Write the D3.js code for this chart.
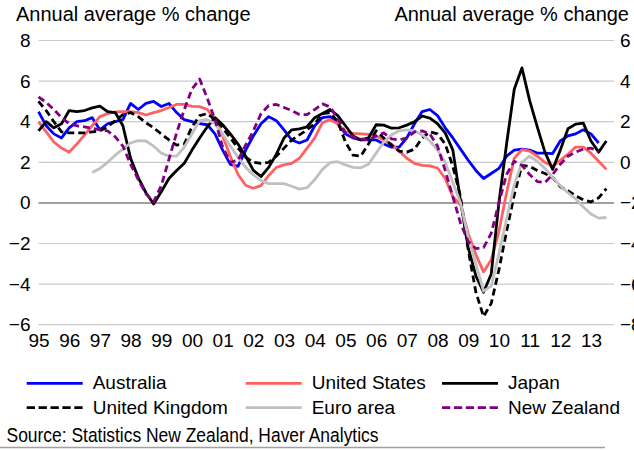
<!DOCTYPE html>
<html>
<head>
<meta charset="utf-8">
<script src="https://cdn.jsdelivr.net/npm/d3@7"></script>
<style>
  html, body { margin: 0; padding: 0; background: #fff; }
  svg { display: block; font-family: "Liberation Sans", Arial, sans-serif; }
</style>
</head>
<body>
<svg id="chart" width="634" height="450"></svg>
<script>
// Quarterly series, annual average % change, first quarter 1995 onward
const firstYear = 1995;

const australia = [
  4.5, 3.8, 3.4, 3.2,   3.7, 4.0, 4.05, 4.2,   3.6, 3.9, 4.0, 4.1,
  4.9, 4.6, 4.9, 5.0,   4.75, 4.9, 4.45, 4.1,  4.0, 3.9, 3.85, 3.4,
  2.6, 1.9, 1.8, 2.6,   3.3, 3.9, 4.25, 4.05,  3.6, 3.1, 2.95, 3.1,
  3.8, 4.2, 4.25, 3.9,  3.4, 3.2, 3.1, 3.1,    3.1, 2.9, 2.75, 2.75,
  3.2, 3.9, 4.5, 4.6,   4.3, 3.7, 3.2, 2.65,   2.1, 1.6, 1.2, 1.45,
  1.7, 2.3, 2.6, 2.65,  2.6, 2.45, 2.45, 2.43, 3.05, 3.3, 3.4, 3.6,
  3.4, 2.95, null
];

const unitedStates = [
  4.0, 3.5, 3.0, 2.7,   2.5, 2.9, 3.35, 3.8,   4.25, 4.4, 4.48, 4.5,
  4.5, 4.45, 4.33, 4.45, 4.55, 4.7, 4.85, 4.85, 4.75, 4.74, 4.6, 4.1,
  3.3, 2.3, 1.4, 0.87,  0.72, 0.85, 1.35, 1.75, 1.87, 1.95, 2.2, 2.7,
  3.2, 3.95, 4.1, 3.9,  3.5, 3.42, 3.4, 3.38,  3.3, 3.1, 2.9, 2.55,
  2.2, 1.95, 1.85, 1.82, 1.72, 1.2, 0.3, -0.1, -1.5, -2.55, -3.4, -2.8,
  -1.4, 0.5, 2.2, 2.62, 2.55, 2.3, 2.0, 1.8,  2.1, 2.4, 2.75, 2.75,
  2.45, 2.05, 1.65
];

const japan = [
  3.55, 4.0, 3.7, 3.9,  4.55, 4.5, 4.55, 4.68, 4.77, 4.5, 4.45, 3.8,
  2.2, 1.25, 0.5, -0.05, 0.55, 1.2, 1.6, 1.95, 2.6, 3.2, 3.75, 4.2,
  3.85, 3.4, 2.9, 2.3,  1.6, 1.3, 1.75, 2.4,   3.2, 3.6, 3.65, 3.75,
  4.2, 4.4, 4.6, 4.3,   3.8, 3.3, 3.1, 3.2,    3.85, 3.83, 3.68, 3.7,
  3.83, 4.0, 4.28, 4.18, 3.9, 3.45, 2.6, 0.1,  -2.2, -3.6, -4.4, -3.5,
  0.0, 2.9, 5.6, 6.65,  5.05, 3.75, 2.5, 1.65, 2.6, 3.65, 3.88, 3.93,
  3.05, 2.5, 3.05
];

const unitedKingdom = [
  5.0, 4.55, 4.0, 3.5,  3.45, 3.45, 3.45, 3.5, 3.55, 3.75, 4.05, 4.35,
  4.45, 4.25, 3.95, 3.7, 3.4, 3.1, 2.85, 2.9,  3.75, 4.3, 4.4, 4.1,
  3.7, 3.2, 2.7, 2.25,  2.0, 1.95, 2.0, 2.3,   2.7, 3.1, 3.35, 3.6,
  3.9, 4.4, 4.45, 4.0,  3.0, 2.35, 2.3, 2.9,   3.55, 3.2, 2.85, 2.55,
  2.5, 2.65, 3.2, 3.5,  3.4, 2.9, 1.8, 0.3,    -2.3, -4.4, -5.6, -4.95,
  -3.3, -1.4, 0.4, 1.85, 1.8, 1.6, 1.45, 1.25, 0.8, 0.6, 0.35, 0.15,
  0.05, 0.25, 0.7
];

const euroArea = [
  null, null, null, null, null, null, null, 1.5, 1.7, 2.0, 2.35, 2.65,
  2.95, 3.07, 3.05, 2.8, 2.45, 2.3, 2.3, 2.75,  3.4, 4.05, 4.1, 3.9,
  3.4, 2.8, 2.25, 1.75, 1.38, 1.1, 0.95, 0.95,  0.95, 0.82, 0.68, 0.75,
  1.15, 1.65, 1.98, 2.03, 1.87, 1.75, 1.73, 1.9, 2.45, 3.0, 3.35, 3.55,
  3.6, 3.55, 3.35, 3.05, 2.6, 2.0, 1.0, 0.0,    -1.7, -3.0, -4.35, -4.1,
  -2.5, -0.8, 0.9, 2.0, 2.3, 2.05, 1.7, 1.25,   0.85, 0.5, 0.2, -0.2,
  -0.55, -0.75, -0.72
];

const newZealand = [
  5.22, 4.95, 4.6, 4.2, 3.9, 3.8, 3.75, 3.68,  3.6, 3.55, 3.25, 2.8,
  1.9, 1.15, 0.45, 0.05, 0.85, 2.15, 3.45, 4.6, 5.6, 6.1, 5.15, 4.1,
  2.75, 2.0, 2.1, 2.85, 3.55, 4.4, 4.8, 4.85,  4.7, 4.55, 4.35, 4.35,
  4.6, 4.88, 4.73, 4.15, 3.45, 3.25, 3.15, 3.1, 3.3, 3.45, 3.15, 3.1,
  3.2, 3.5, 3.55, 3.4,  2.8, 1.6, 0.3, -1.0,   -1.9, -2.25, -2.2, -1.5,
  0.0, 1.4, 2.05, 1.85, 1.4, 1.05, 1.0, 1.4,   1.9, 2.3, 2.5, 2.65,
  2.7, 2.55, null
];

const yearTicks = d3.range(1995, 2014);
const leftTicks = [-6, -4, -2, 0, 2, 4, 6, 8];
const rightTicks = [-8, -6, -4, -2, 0, 2, 4, 6];

const series = [
  { name: "Australia",      values: australia,     color: "#0000ff", dash: null },
  { name: "United States",  values: unitedStates,  color: "#ff6161", dash: null },
  { name: "Japan",          values: japan,         color: "#000000", dash: null },
  { name: "United Kingdom", values: unitedKingdom, color: "#000000", dash: "7,4" },
  { name: "Euro area",      values: euroArea,      color: "#c0c0c0", dash: null },
  { name: "New Zealand",    values: newZealand,    color: "#800080", dash: "7,4" }
];

const svg = d3.select("#chart");
svg.append("rect").attr("width", 634).attr("height", 450).attr("fill", "#fff");

const x = d3.scaleLinear().domain([1995, 2013.75]).range([38.5, 614]);
const y = d3.scaleLinear().domain([-6, 8]).range([324.7, 40.5]);
const yRight = d3.scaleLinear().domain([-8, 6]).range([324.7, 40.5]);

// gridlines
svg.append("g")
  .selectAll("line")
  .data(leftTicks)
  .join("line")
  .attr("x1", x.range()[0]).attr("x2", x.range()[1])
  .attr("y1", d => y(d)).attr("y2", d => y(d))
  .attr("stroke", d => d === 0 ? "#7f7f7f" : "#cbcbcb")
  .attr("stroke-width", d => d === 0 ? 1.5 : 1.2);

// axes
const styleAxis = g => {
  g.select(".domain").remove();
  g.selectAll("text").attr("fill", "#000").style("font-size", "19px")
    .style("font-family", '"Liberation Sans", Arial, sans-serif');
};

svg.append("g")
  .attr("transform", `translate(${x.range()[0]},0)`)
  .call(d3.axisLeft(y).tickValues(leftTicks).tickSize(0).tickPadding(8).tickFormat(d3.format("d")))
  .call(styleAxis);

svg.append("g")
  .attr("transform", `translate(${x.range()[1]},0)`)
  .call(d3.axisRight(yRight).tickValues(rightTicks).tickSize(0).tickPadding(6).tickFormat(d3.format("d")))
  .call(styleAxis);

svg.append("g")
  .attr("transform", `translate(0,${y(-6)})`)
  .call(d3.axisBottom(x).tickValues(yearTicks).tickSize(0).tickPadding(8.5)
    .tickFormat(d => String(d % 100).padStart(2, "0")))
  .call(styleAxis);

// series lines
const line = d3.line()
  .defined(d => d.v !== null)
  .x(d => x(d.t))
  .y(d => y(d.v));

svg.append("g")
  .selectAll("path")
  .data(series)
  .join("path")
  .attr("d", s => line(s.values.map((v, i) => ({ t: firstYear + i / 4, v }))))
  .attr("fill", "none")
  .attr("stroke", s => s.color)
  .attr("stroke-width", 2.8)
  .attr("stroke-linejoin", "round")
  .attr("stroke-dasharray", s => s.dash);

// titles
svg.append("text")
  .attr("x", 16).attr("y", 21)
  .style("font-size", "20px")
  .text("Annual average % change");
svg.append("text")
  .attr("x", 629).attr("y", 21)
  .attr("text-anchor", "end")
  .style("font-size", "20px")
  .text("Annual average % change");

// legend
const legendCols = [26.7, 245.7, 442];
const legendRows = [383.3, 407.7];
const legend = svg.append("g")
  .selectAll("g")
  .data(series)
  .join("g")
  .attr("transform", (d, i) => `translate(${legendCols[i % 3]},${legendRows[Math.floor(i / 3)]})`);

legend.append("line")
  .attr("x1", 0).attr("x2", 56)
  .attr("stroke", d => d.color)
  .attr("stroke-width", 2.8)
  .attr("stroke-dasharray", d => d.dash ? "8.3,3.6" : null);

legend.append("text")
  .attr("x", 66).attr("y", 6)
  .style("font-size", "19px")
  .text(d => d.name);

// source note
svg.append("text")
  .attr("x", 6.5).attr("y", 441.5)
  .attr("textLength", 372)
  .attr("lengthAdjust", "spacingAndGlyphs")
  .style("font-family", '"Liberation Sans Narrow", "Arial Narrow", "Liberation Sans", Arial, sans-serif')
  .style("font-size", "20.5px")
  .text("Source: Statistics New Zealand, Haver Analytics");

svg.append("line")
  .attr("x1", 0).attr("x2", 605)
  .attr("y1", 447.5).attr("y2", 447.5)
  .attr("stroke", "#a0a0a0")
  .attr("stroke-width", 1.5);
</script>
</body>
</html>
